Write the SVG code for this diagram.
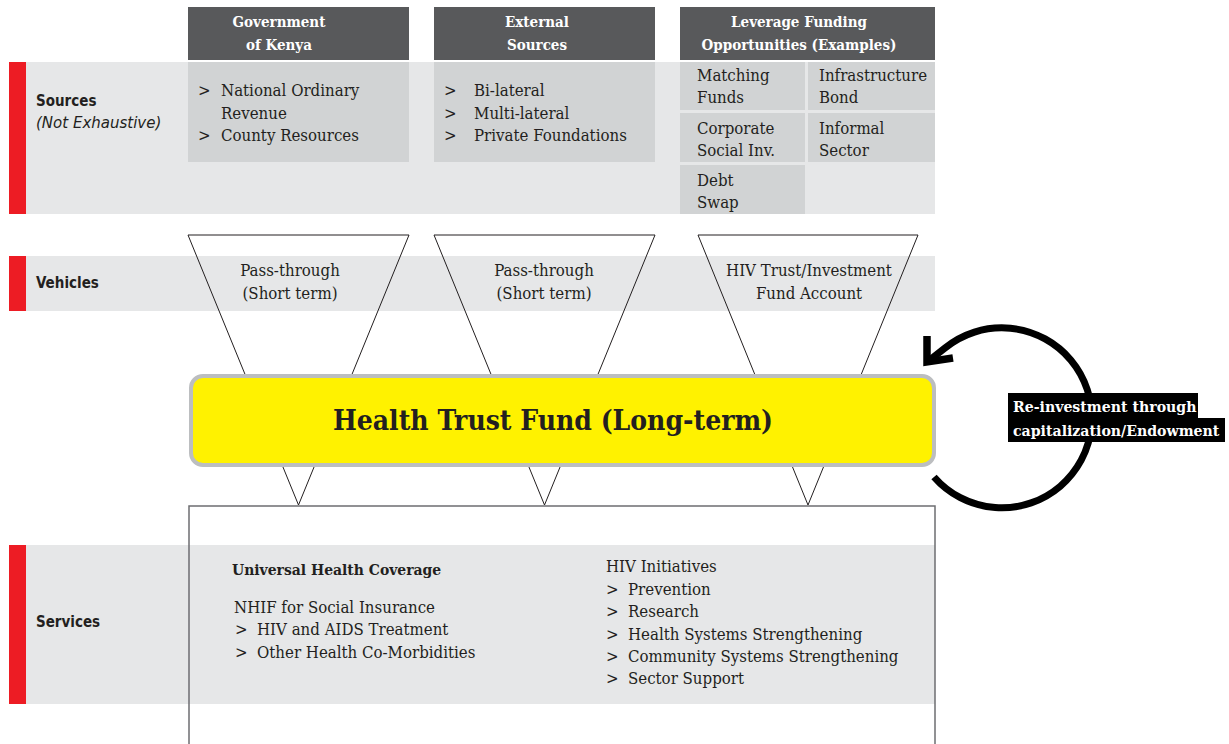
<svg xmlns="http://www.w3.org/2000/svg" width="1229" height="744" viewBox="0 0 1229 744">
<style>
.band{fill:#e6e7e8}
.cell{fill:#d1d3d4}
.red{fill:#ed1c24}
.hdr{fill:#58595b}
.hdrt{font-family:"DejaVu Serif Condensed","DejaVu Serif",serif;font-weight:bold;font-size:15px;fill:#fff;text-anchor:middle}
.lbl{font-family:"DejaVu Sans Condensed","DejaVu Sans",sans-serif;font-weight:bold;font-size:15px;fill:#231f20}
.lbli{font-family:"DejaVu Sans",sans-serif;font-style:italic;font-size:15px;fill:#231f20}
.t{font-family:"DejaVu Serif Condensed","DejaVu Serif",serif;font-size:16.7px;fill:#231f20}
.tb{font-family:"DejaVu Serif Condensed","DejaVu Serif",serif;font-size:15.5px;font-weight:bold;fill:#231f20}
.tc{font-family:"DejaVu Serif Condensed","DejaVu Serif",serif;font-size:16.7px;fill:#231f20;text-anchor:middle}
.fun{fill:none;stroke:#231f20;stroke-width:1}
.rt{font-family:"DejaVu Serif Condensed","DejaVu Serif",serif;font-weight:bold;font-size:15.7px;fill:#fff}
</style>

<!-- Sources row -->
<g id="row-sources">
<rect class="red" x="9" y="62" width="17" height="152"/>
<rect class="band" x="26" y="62" width="909" height="152"/>
<text class="lbl" x="36" y="106">Sources</text>
<text class="lbli" x="36" y="128">(Not Exhaustive)</text>
</g>

<g id="hdr-gov">
<rect class="hdr" x="188" y="7" width="221" height="53"/>
<text class="hdrt" x="279" y="27">Government</text>
<text class="hdrt" x="279" y="50">of Kenya</text>
</g>
<g id="hdr-ext">
<rect class="hdr" x="434" y="7" width="221" height="53"/>
<text class="hdrt" x="537" y="27">External</text>
<text class="hdrt" x="537" y="50">Sources</text>
</g>
<g id="hdr-lev">
<rect class="hdr" x="680" y="7" width="255" height="53"/>
<text class="hdrt" x="799" y="27">Leverage Funding</text>
<text class="hdrt" x="799" y="50">Opportunities (Examples)</text>
</g>

<g id="src-gov">
<rect class="cell" x="188" y="62" width="221" height="100"/>
<text class="t" x="198" y="96">&gt;</text><text class="t" x="221" y="96">National Ordinary</text>
<text class="t" x="221" y="119">Revenue</text>
<text class="t" x="198" y="141">&gt;</text><text class="t" x="221" y="141">County Resources</text>
</g>
<g id="src-ext">
<rect class="cell" x="434" y="62" width="221" height="100"/>
<text class="t" x="444" y="96">&gt;</text><text class="t" x="474" y="96">Bi-lateral</text>
<text class="t" x="444" y="119">&gt;</text><text class="t" x="474" y="119">Multi-lateral</text>
<text class="t" x="444" y="141">&gt;</text><text class="t" x="474" y="141">Private Foundations</text>
</g>
<g id="lev-matching">
<rect class="cell" x="680" y="62" width="125" height="48"/>
<text class="t" x="697" y="81">Matching</text><text class="t" x="697" y="103">Funds</text>
</g>
<g id="lev-infra">
<rect class="cell" x="808" y="62" width="127" height="48"/>
<text class="t" x="819" y="81">Infrastructure</text><text class="t" x="819" y="103">Bond</text>
</g>
<g id="lev-csi">
<rect class="cell" x="680" y="113" width="125" height="49"/>
<text class="t" x="697" y="134">Corporate</text><text class="t" x="697" y="156">Social Inv.</text>
</g>
<g id="lev-informal">
<rect class="cell" x="808" y="113" width="127" height="49"/>
<text class="t" x="819" y="134">Informal</text><text class="t" x="819" y="156">Sector</text>
</g>
<g id="lev-debt">
<rect class="cell" x="680" y="165" width="125" height="49"/>
<text class="t" x="697" y="186">Debt</text><text class="t" x="697" y="208">Swap</text>
</g>

<!-- Vehicles row -->
<g id="row-vehicles">
<rect class="red" x="9" y="256" width="17" height="55"/>
<rect class="band" x="26" y="256" width="909" height="55"/>
<text class="lbl" x="36" y="288">Vehicles</text>
</g>

<!-- Services row -->
<g id="row-services">
<rect class="red" x="9" y="545" width="17" height="159"/>
<rect class="band" x="26" y="545" width="909" height="159"/>
<text class="lbl" x="36" y="627">Services</text>
</g>

<!-- connectors: funnels and reinvestment loop -->
<g id="connectors">
<polygon class="fun" points="188,235 409,235 298.5,505"/>
<polygon class="fun" points="434,235 655,235 544.5,505"/>
<polygon class="fun" points="698,235 918,235 808,505"/>
<path d="M934,477 A90,90 0 1 0 945,348 L931,359" fill="none" stroke="#000" stroke-width="7"/>
<polyline points="927,336 927,362 953,358" fill="none" stroke="#000" stroke-width="7.5" stroke-linejoin="miter"/>
</g>

<g id="veh-1">
<text class="tc" x="290" y="276">Pass-through</text>
<text class="tc" x="290" y="299">(Short term)</text>
</g>
<g id="veh-2">
<text class="tc" x="544" y="276">Pass-through</text>
<text class="tc" x="544" y="299">(Short term)</text>
</g>
<g id="veh-3">
<text class="tc" x="809" y="276">HIV Trust/Investment</text>
<text class="tc" x="809" y="299">Fund Account</text>
</g>

<g id="health-trust-fund">
<rect x="191" y="376" width="743" height="89" rx="12" fill="#fff200" stroke="#bcbec0" stroke-width="4"/>
<text x="553" y="430" font-family="'DejaVu Serif Condensed','DejaVu Serif',serif" font-weight="bold" font-size="28" fill="#231f20" text-anchor="middle">Health Trust Fund (Long-term)</text>
</g>

<g id="reinvest-label">
<rect x="1008" y="393" width="190" height="25" fill="#000"/>
<rect x="1008" y="418" width="217" height="24" fill="#000"/>
<text class="rt" x="1013" y="412">Re-investment through</text>
<text class="rt" x="1013" y="436">capitalization/Endowment</text>
</g>

<g id="services-box">
<rect x="189" y="506" width="746" height="250" fill="none" stroke="#6d6e71" stroke-width="1.5"/>
</g>
<g id="svc-uhc">
<text class="tb" x="232" y="575">Universal Health Coverage</text>
<text class="t" x="234" y="613">NHIF for Social Insurance</text>
<text class="t" x="235" y="635">&gt;</text><text class="t" x="257" y="635">HIV and AIDS Treatment</text>
<text class="t" x="235" y="658">&gt;</text><text class="t" x="257" y="658">Other Health Co-Morbidities</text>
</g>
<g id="svc-hiv">
<text class="t" x="606" y="572">HIV Initiatives</text>
<text class="t" x="606" y="595">&gt;</text><text class="t" x="628" y="595">Prevention</text>
<text class="t" x="606" y="617">&gt;</text><text class="t" x="628" y="617">Research</text>
<text class="t" x="606" y="640">&gt;</text><text class="t" x="628" y="640">Health Systems Strengthening</text>
<text class="t" x="606" y="662">&gt;</text><text class="t" x="628" y="662">Community Systems Strengthening</text>
<text class="t" x="606" y="684">&gt;</text><text class="t" x="628" y="684">Sector Support</text>
</g>
</svg>
